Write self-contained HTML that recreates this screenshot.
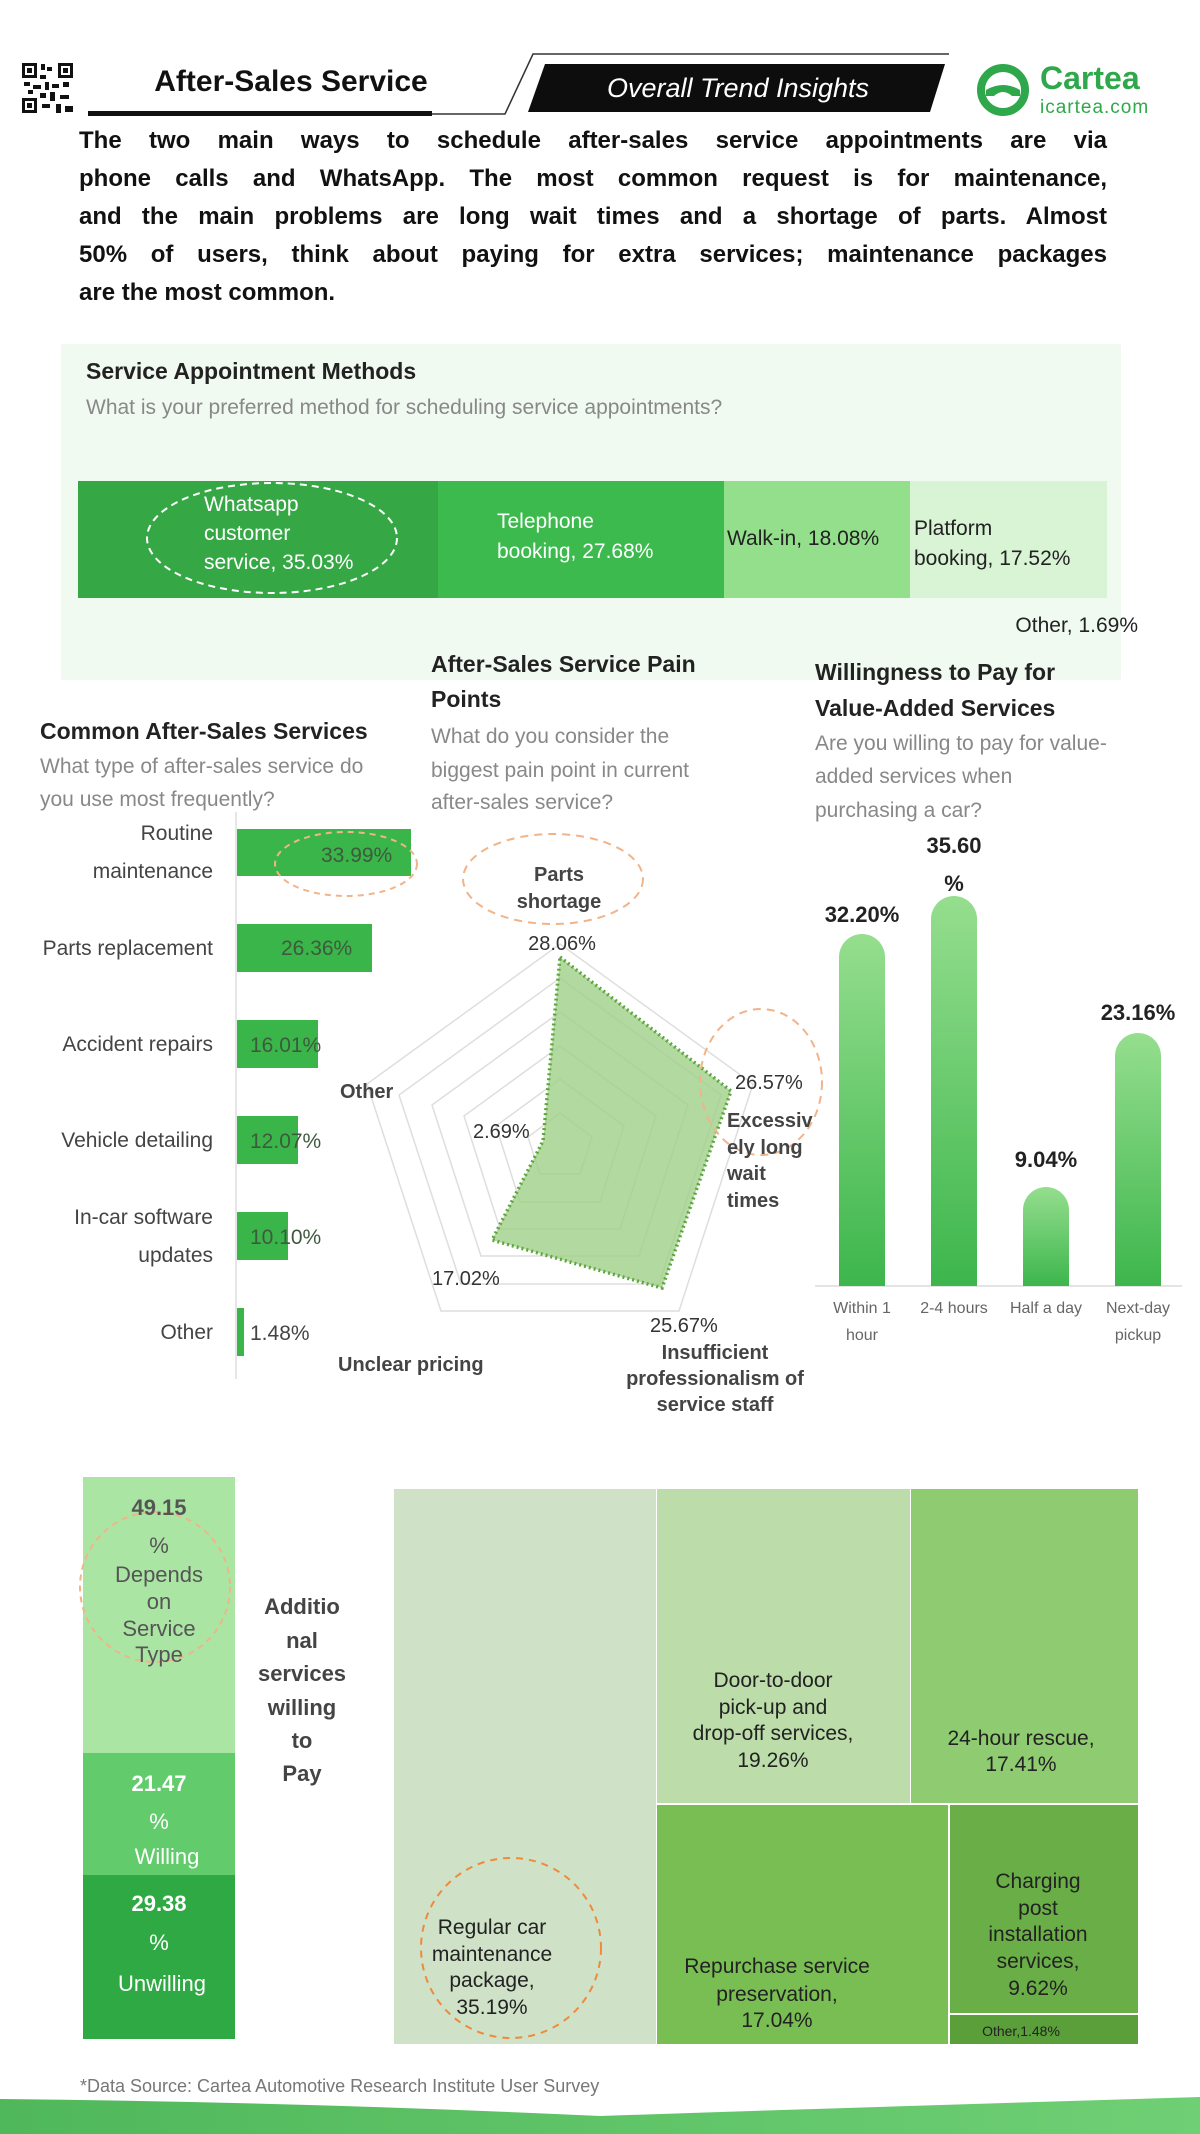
<!DOCTYPE html>
<html><head><meta charset="utf-8">
<style>
html,body{margin:0;padding:0;background:#fff;}
body{width:1200px;height:2134px;position:relative;overflow:hidden;font-family:"Liberation Sans",sans-serif;}
svg{position:absolute;left:0;top:0;}
.p{position:absolute;left:79px;width:1028px;font-weight:bold;font-size:24px;color:#111;line-height:38px;}
.p div{text-align:justify;text-align-last:justify;height:38px;white-space:nowrap;}
</style></head><body>
<svg width="1200" height="2134" viewBox="0 0 1200 2134" font-family="Liberation Sans, sans-serif">
<defs>
<linearGradient id="col" x1="0" y1="0" x2="0" y2="1"><stop offset="0" stop-color="#95de8e"/><stop offset="1" stop-color="#3db64c"/></linearGradient>
<linearGradient id="wave" x1="0" y1="0" x2="1" y2="0"><stop offset="0" stop-color="#4fb85a"/><stop offset="1" stop-color="#6fcf74"/></linearGradient>
</defs>
<!-- header -->
<g fill="#111">
<rect x="22" y="63" width="51" height="50" fill="#fff"/>
<rect x="22" y="63" width="15" height="15"/><rect x="25" y="66" width="9" height="9" fill="#fff"/><rect x="27" y="68" width="5" height="5"/>
<rect x="58" y="63" width="15" height="15"/><rect x="61" y="66" width="9" height="9" fill="#fff"/><rect x="63" y="68" width="5" height="5"/>
<rect x="22" y="98" width="15" height="15"/><rect x="25" y="101" width="9" height="9" fill="#fff"/><rect x="27" y="103" width="5" height="5"/>
<rect x="41" y="64" width="4" height="6"/><rect x="47" y="67" width="5" height="4"/><rect x="40" y="75" width="6" height="4"/><rect x="24" y="82" width="6" height="4"/><rect x="33" y="85" width="8" height="4"/><rect x="45" y="82" width="4" height="8"/><rect x="52" y="84" width="7" height="4"/><rect x="63" y="82" width="6" height="5"/><rect x="40" y="93" width="6" height="5"/><rect x="50" y="92" width="5" height="9"/><rect x="60" y="95" width="9" height="4"/><rect x="42" y="104" width="8" height="4"/><rect x="56" y="104" width="5" height="9"/><rect x="65" y="106" width="8" height="6"/><rect x="28" y="90" width="5" height="4"/>
</g>
<text x="291" y="91" font-size="30" font-weight="bold" text-anchor="middle" fill="#111">After-Sales Service</text>
<rect x="88" y="111" width="344" height="5" fill="#111"/>
<polyline points="432,114 505,114 533,54 949,54" fill="none" stroke="#333" stroke-width="1.5"/>
<polygon points="545,64 945,64 930,112 528,112" fill="#0d0d0d"/>
<text x="738" y="97" font-size="27" font-style="italic" text-anchor="middle" fill="#fff">Overall Trend Insights</text>
<circle cx="1003" cy="90" r="22" fill="none" stroke="#2ea84a" stroke-width="8"/>
<path d="M986 90 Q1003 80 1020 90 L1020 96 L1012 96 Q1003 88 994 96 L986 96 Z" fill="#2ea84a"/>
<text x="1040" y="89" font-size="32" font-weight="bold" fill="#2ea84a">Cartea</text>
<text x="1040" y="113" font-size="19" fill="#2ea84a" letter-spacing="1">icartea.com</text>

<!-- panel -->
<rect x="61" y="344" width="1060" height="336" fill="#f1faf0"/>
<text x="86" y="379" font-size="23" font-weight="bold" fill="#222">Service Appointment Methods</text>
<text x="86" y="414" font-size="21" fill="#888">What is your preferred method for scheduling service appointments?</text>
<rect x="78" y="481" width="360" height="117" fill="#35a845"/>
<rect x="438" y="481" width="286" height="117" fill="#3dba4d"/>
<rect x="724" y="481" width="186" height="117" fill="#93df8c"/>
<rect x="910" y="481" width="197" height="117" fill="#d8f4d4"/>
<ellipse cx="272" cy="538" rx="125" ry="55" fill="none" stroke="#fff" stroke-width="2" stroke-dasharray="7,5"/>
<g font-size="21" fill="#fff">
<text x="204" y="511">Whatsapp</text><text x="204" y="540">customer</text><text x="204" y="569">service, 35.03%</text>
<text x="497" y="528">Telephone</text><text x="497" y="558">booking, 27.68%</text>
</g>
<g font-size="21" fill="#222">
<text x="727" y="545">Walk-in, 18.08%</text>
<text x="914" y="535">Platform</text><text x="914" y="565">booking, 17.52%</text>
<text x="1138" y="632" text-anchor="end">Other, 1.69%</text>
</g>

<!-- common after-sales services -->
<text x="40" y="739" font-size="23" font-weight="bold" fill="#222">Common After-Sales Services</text>
<text x="40" y="773" font-size="21" fill="#888">What type of after-sales service do</text>
<text x="40" y="806" font-size="21" fill="#888">you use most frequently?</text>
<line x1="236" y1="812" x2="236" y2="1379" stroke="#e6e6e6" stroke-width="2"/>
<g fill="#3ab54a">
<rect x="237" y="829" width="174" height="47"/>
<rect x="237" y="924" width="135" height="48"/>
<rect x="237" y="1020" width="81" height="48"/>
<rect x="237" y="1116" width="61" height="48"/>
<rect x="237" y="1212" width="51" height="48"/>
<rect x="237" y="1308" width="7" height="48"/>
</g>
<g font-size="21" fill="#444" text-anchor="end">
<text x="213" y="840">Routine</text><text x="213" y="878">maintenance</text>
<text x="213" y="955">Parts replacement</text>
<text x="213" y="1051">Accident repairs</text>
<text x="213" y="1147">Vehicle detailing</text>
<text x="213" y="1224">In-car software</text><text x="213" y="1262">updates</text>
<text x="213" y="1339">Other</text>
</g>
<g font-size="21" fill="#3d5a3d">
<text x="321" y="862">33.99%</text>
<text x="281" y="955">26.36%</text>
<text x="250" y="1052">16.01%</text>
<text x="250" y="1148">12.07%</text>
<text x="250" y="1244">10.10%</text>
<text x="250" y="1340" fill="#444">1.48%</text>
</g>
<ellipse cx="346" cy="864" rx="71" ry="32" fill="none" stroke="#f0b48a" stroke-width="2" stroke-dasharray="6,5"/>

<!-- pain points radar -->
<text x="431" y="672" font-size="23" font-weight="bold" fill="#222">After-Sales Service Pain</text>
<text x="431" y="707" font-size="23" font-weight="bold" fill="#222">Points</text>
<text x="431" y="743" font-size="21" fill="#888">What do you consider the</text>
<text x="431" y="777" font-size="21" fill="#888">biggest pain point in current</text>
<text x="431" y="809" font-size="21" fill="#888">after-sales service?</text>
<g fill="none" stroke="#dedede" stroke-width="1.5">
<polygon points="560,944 753,1084 679,1311 441,1311 367,1084"/>
<polygon points="560,978 721,1095 659,1284 461,1284 399,1095"/>
<polygon points="560,1012 688,1105 639,1256 481,1256 432,1105"/>
<polygon points="560,1046 656,1116 620,1229 500,1229 464,1116"/>
<polygon points="560,1079 624,1126 600,1202 520,1202 496,1126"/>
<polygon points="560,1113 592,1137 580,1174 540,1174 528,1137"/>
</g>
<polygon points="560,957 731,1091 662,1288 492,1240 543,1141" fill="#9fcf87" fill-opacity="0.8" stroke="#5da63e" stroke-width="3.5" stroke-dasharray="2,3"/>
<ellipse cx="553" cy="879" rx="90" ry="45" fill="none" stroke="#f0b48a" stroke-width="2" stroke-dasharray="8,6"/>
<ellipse cx="761" cy="1082" rx="61" ry="73" fill="none" stroke="#f0b48a" stroke-width="2" stroke-dasharray="8,6"/>
<g font-size="20" font-weight="bold" fill="#444">
<text x="559" y="881" text-anchor="middle">Parts</text>
<text x="559" y="908" text-anchor="middle">shortage</text>
<text x="727" y="1127">Excessiv</text><text x="727" y="1154">ely long</text><text x="727" y="1180">wait</text><text x="727" y="1207">times</text>
<text x="340" y="1098">Other</text>
<text x="338" y="1371">Unclear pricing</text>
<text x="715" y="1359" text-anchor="middle">Insufficient</text>
<text x="715" y="1385" text-anchor="middle">professionalism of</text>
<text x="715" y="1411" text-anchor="middle">service staff</text>
</g>
<g font-size="20" fill="#333">
<text x="562" y="950" text-anchor="middle">28.06%</text>
<text x="735" y="1089">26.57%</text>
<text x="473" y="1138">2.69%</text>
<text x="432" y="1285">17.02%</text>
<text x="650" y="1332">25.67%</text>
</g>

<!-- willingness -->
<text x="815" y="680" font-size="23" font-weight="bold" fill="#222">Willingness to Pay for</text>
<text x="815" y="716" font-size="23" font-weight="bold" fill="#222">Value-Added Services</text>
<text x="815" y="750" font-size="21" fill="#888">Are you willing to pay for value-</text>
<text x="815" y="783" font-size="21" fill="#888">added services when</text>
<text x="815" y="817" font-size="21" fill="#888">purchasing a car?</text>
<line x1="815" y1="1286" x2="1182" y2="1286" stroke="#dcdcdc" stroke-width="1.5"/>
<g fill="url(#col)">
<path d="M839 1286 V957 a23 23 0 0 1 46 0 V1286 Z"/>
<path d="M931 1286 V919 a23 23 0 0 1 46 0 V1286 Z"/>
<path d="M1023 1286 V1210 a23 23 0 0 1 46 0 V1286 Z"/>
<path d="M1115 1286 V1056 a23 23 0 0 1 46 0 V1286 Z"/>
</g>
<g font-size="22" font-weight="bold" fill="#222" text-anchor="middle">
<text x="862" y="922">32.20%</text>
<text x="954" y="853">35.60</text><text x="954" y="891">%</text>
<text x="1046" y="1167">9.04%</text>
<text x="1138" y="1020">23.16%</text>
</g>
<g font-size="16" fill="#666" text-anchor="middle">
<text x="862" y="1313">Within 1</text><text x="862" y="1340">hour</text>
<text x="954" y="1313">2-4 hours</text>
<text x="1046" y="1313">Half a day</text>
<text x="1138" y="1313">Next-day</text><text x="1138" y="1340">pickup</text>
</g>

<!-- stacked bar -->
<rect x="83" y="1477" width="152" height="276" fill="#abe5a3"/>
<rect x="83" y="1753" width="152" height="122" fill="#62cb6c"/>
<rect x="83" y="1875" width="152" height="164" fill="#2fa944"/>
<circle cx="155" cy="1587" r="75" fill="none" stroke="#f0b48a" stroke-width="2" stroke-dasharray="6,5"/>
<g font-size="22" text-anchor="middle">
<text x="159" y="1515" font-weight="bold" fill="#555">49.15</text>
<text x="159" y="1553" fill="#555">%</text>
<text x="159" y="1582" fill="#555">Depends</text>
<text x="159" y="1609" fill="#555">on</text>
<text x="159" y="1636" fill="#555">Service</text>
<text x="159" y="1662" fill="#555">Type</text>
<text x="159" y="1791" font-weight="bold" fill="#fff">21.47</text>
<text x="159" y="1829" fill="#fff">%</text>
<text x="167" y="1864" fill="#fff">Willing</text>
<text x="159" y="1911" font-weight="bold" fill="#fff">29.38</text>
<text x="159" y="1950" fill="#fff">%</text>
<text x="162" y="1991" fill="#fff">Unwilling</text>
</g>
<g font-size="22" font-weight="bold" fill="#444" text-anchor="middle">
<text x="302" y="1614">Additio</text><text x="302" y="1648">nal</text><text x="302" y="1681">services</text><text x="302" y="1715">willing</text><text x="302" y="1748">to</text><text x="302" y="1781">Pay</text>
</g>

<!-- treemap -->
<rect x="394" y="1489" width="262" height="555" fill="#cfe2c7"/>
<rect x="657" y="1489" width="253" height="314" fill="#bcdcaa"/>
<rect x="911" y="1489" width="227" height="314" fill="#8fcb70"/>
<rect x="657" y="1805" width="291" height="239" fill="#79be52"/>
<rect x="950" y="1805" width="188" height="208" fill="#6aae47"/>
<rect x="950" y="2015" width="188" height="29" fill="#5b9f3a"/>
<circle cx="511" cy="1948" r="90" fill="none" stroke="#f08a3a" stroke-width="2" stroke-dasharray="7,6"/>
<g font-size="21" fill="#222" text-anchor="middle">
<text x="492" y="1934">Regular car</text><text x="492" y="1961">maintenance</text><text x="492" y="1987">package,</text><text x="492" y="2014">35.19%</text>
<text x="773" y="1687">Door-to-door</text><text x="773" y="1714">pick-up and</text><text x="773" y="1740">drop-off services,</text><text x="773" y="1767">19.26%</text>
<text x="1021" y="1745">24-hour rescue,</text><text x="1021" y="1771">17.41%</text>
<text x="777" y="1973">Repurchase service</text><text x="777" y="2001">preservation,</text><text x="777" y="2027">17.04%</text>
<text x="1038" y="1888">Charging</text><text x="1038" y="1915">post</text><text x="1038" y="1941">installation</text><text x="1038" y="1968">services,</text><text x="1038" y="1995">9.62%</text>
<text x="1021" y="2036" font-size="14">Other,1.48%</text>
</g>

<!-- footer -->
<text x="80" y="2092" font-size="18" fill="#777">*Data Source: Cartea Automotive Research Institute User Survey</text>
<path d="M0 2099 Q300 2102 600 2116 Q900 2106 1200 2097 V2134 H0 Z" fill="url(#wave)"/>
</svg>
<div class="p" style="top:122px">
<div>The two main ways to schedule after-sales service appointments are via</div>
<div>phone calls and WhatsApp. The most common request is for maintenance,</div>
<div>and the main problems are long wait times and a shortage of parts. Almost</div>
<div>50% of users, think about paying for extra services; maintenance packages</div>
<div style="text-align-last:left">are the most common.</div>
</div>
</body></html>
